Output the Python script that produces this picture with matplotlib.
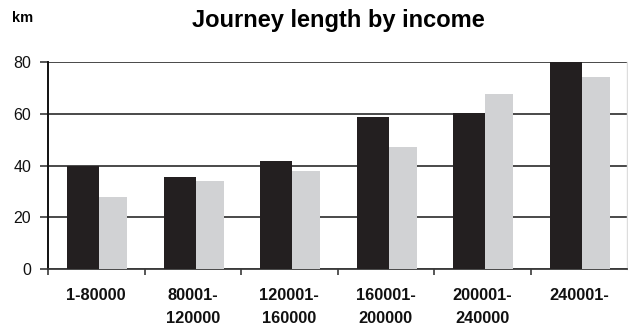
import matplotlib
matplotlib.use("Agg")
import matplotlib.pyplot as plt
import numpy as np

# Income bands (labels) and average journey length (km) for two series
categories = ["1-80000", "80001-\n120000", "120001-\n160000",
              "160001-\n200000", "200001-\n240000", "240001-"]
series_dark = [40.0, 35.6, 41.7, 58.7, 60.3, 80.0]
series_light = [27.8, 34.0, 37.9, 47.1, 67.6, 74.2]
y_ticks = [0, 20, 40, 60, 80]

plt.rcParams["font.family"] = ["Liberation Sans", "DejaVu Sans"]

DARK = "#231f20"
LIGHT = "#d1d2d4"
GRID = "#3a3a3a"

fig = plt.figure(figsize=(6.28, 3.33), dpi=100)
ax = fig.add_axes([48 / 628, (333 - 269) / 333, 579 / 628, (269 - 62.3) / 333])

x = np.arange(len(categories))
w_dark, w_light = 0.33, 0.29
ax.bar(x - 0.30 + w_dark / 2, series_dark, width=w_dark, color=DARK, zorder=3)
ax.bar(x + 0.03 + w_light / 2, series_light, width=w_light, color=LIGHT, zorder=3)

ax.set_xlim(-0.5, len(categories) - 0.5)
ax.set_ylim(0, 80)

# Horizontal gridlines
ax.set_yticks(y_ticks)
ax.yaxis.grid(True, color=GRID, linewidth=1.3, zorder=1)
ax.set_axisbelow(True)
ax.tick_params(axis="y", length=6, width=1.2, color=GRID, pad=6,
               labelsize=11.5, labelcolor="#111111")

# Category labels centred, boundary ticks as minor ticks
ax.set_xticks(x)
ax.set_xticklabels(categories, fontweight="bold", fontsize=11.8,
                   linespacing=1.7, va="top")
ax.set_xticks(np.arange(-0.5, len(categories) - 0.5, 1.0), minor=True)
ax.tick_params(axis="x", which="major", length=0, pad=13.5, labelcolor="#111111")
ax.tick_params(axis="x", which="minor", length=4.5, width=1.2, color=GRID)

ax.spines["top"].set_visible(False)
ax.spines["left"].set_color("#111111")
ax.spines["left"].set_linewidth(1.4)
ax.spines["bottom"].set_color(GRID)
ax.spines["bottom"].set_linewidth(1.3)
ax.spines["right"].set_color("#dddddd")
ax.spines["right"].set_linewidth(1.0)

fig.text(12 / 628, 1 - 22 / 333, "km", fontweight="bold", fontsize=10.5,
         ha="left", va="baseline")
fig.text(338 / 628, 1 - 27 / 333, "Journey length by income",
         fontweight="bold", fontsize=17, ha="center", va="baseline")

fig.savefig("out.png", dpi=100)
